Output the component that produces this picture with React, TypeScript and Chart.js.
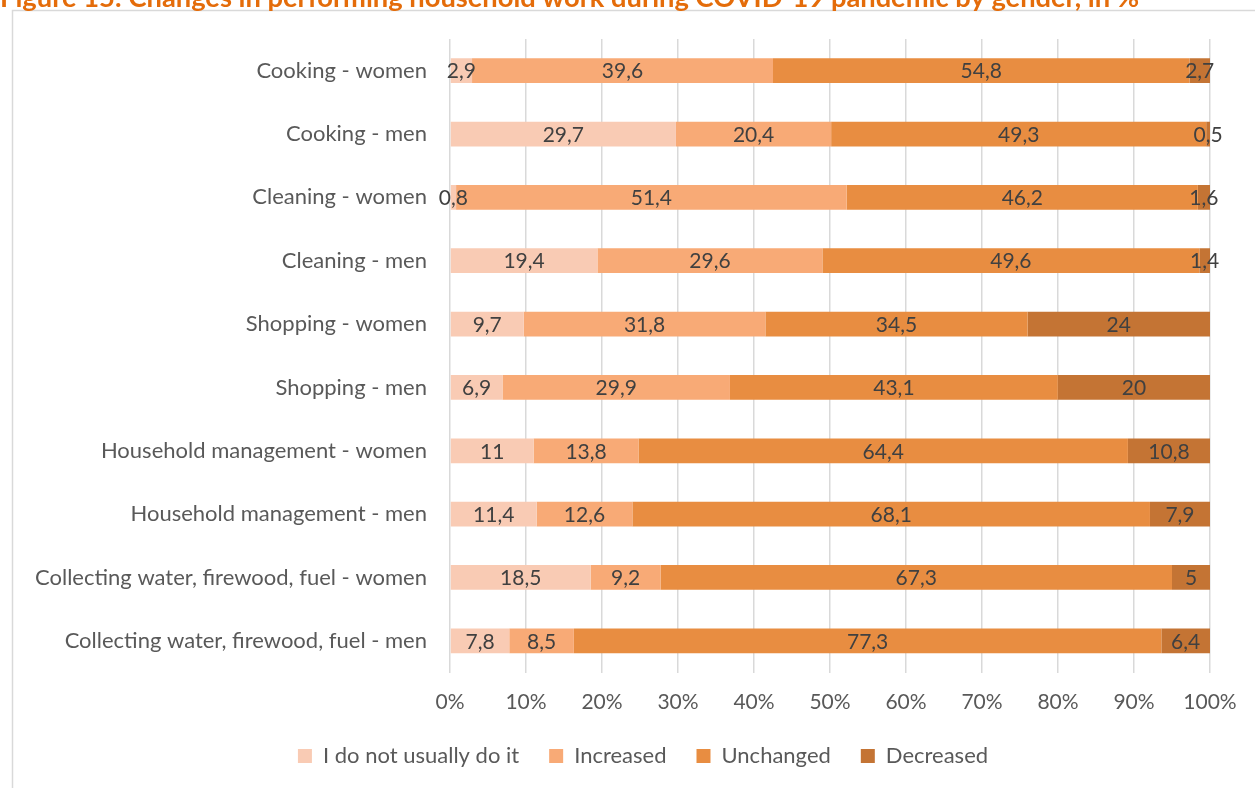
import { useEffect, useRef } from "react";
import { Chart, registerables } from "chart.js";

Chart.register(...registerables);

const FONT = "Lato, 'Open Sans', sans-serif";

const titleText =
  "Figure 15: Changes in performing household work during COVID-19 pandemic by gender, in %";

const categories = [
  "Cooking - women",
  "Cooking - men",
  "Cleaning - women",
  "Cleaning - men",
  "Shopping - women",
  "Shopping - men",
  "Household management - women",
  "Household management - men",
  "Collecting water, firewood, fuel - women",
  "Collecting water, firewood, fuel - men",
];

const seriesNames = ["I do not usually do it", "Increased", "Unchanged", "Decreased"];

const notUsually = [2.9, 29.7, 0.8, 19.4, 9.7, 6.9, 11, 11.4, 18.5, 7.8];
const increased = [39.6, 20.4, 51.4, 29.6, 31.8, 29.9, 13.8, 12.6, 9.2, 8.5];
const unchanged = [54.8, 49.3, 46.2, 49.6, 34.5, 43.1, 64.4, 68.1, 67.3, 77.3];
const decreased = [2.7, 0.5, 1.6, 1.4, 24, 20, 10.8, 7.9, 5, 6.4];

const seriesColors = ["#F9CBB4", "#F8AA76", "#E88D41", "#C47434"];

const xTicks = [0, 10, 20, 30, 40, 50, 60, 70, 80, 90, 100];

const framePlugin = {
  id: "frame",
  beforeDraw(chart: any) {
    const ctx = chart.ctx;
    ctx.save();
    ctx.fillStyle = "#ffffff";
    ctx.fillRect(0, 0, chart.width, chart.height);
    ctx.strokeStyle = "#d9d9d9";
    ctx.lineWidth = 1.5;
    ctx.strokeRect(12.5, 10.5, 1400, 1000);
    ctx.fillStyle = "#E46C0A";
    ctx.font = `bold 27.3px ${FONT}`;
    ctx.textBaseline = "alphabetic";
    ctx.textAlign = "left";
    ctx.fillText(titleText, 0, 7);
    ctx.restore();
  },
};

const legendShiftPlugin = {
  id: "legendShift",
  afterLayout(chart: any) {
    if (chart.legend) {
      chart.legend.left += 76;
    }
  },
};

const labelPlugin = {
  id: "segLabels",
  afterDatasetsDraw(chart: any) {
    const ctx = chart.ctx;
    ctx.save();
    ctx.font = `21px ${FONT}`;
    ctx.fillStyle = "#404040";
    ctx.textAlign = "center";
    ctx.textBaseline = "middle";
    chart.data.datasets.forEach((ds: any, di: number) => {
      const meta = chart.getDatasetMeta(di);
      meta.data.forEach((bar: any, i: number) => {
        const v = ds.rawValues[i];
        const cx = (bar.x + bar.base) / 2;
        ctx.fillText(String(v).replace(".", ","), cx, bar.y + 1);
      });
    });
    ctx.restore();
  },
};

export default function App() {
  const ref = useRef<HTMLCanvasElement>(null);

  useEffect(() => {
    const raw = [notUsually, increased, unchanged, decreased];
    const totals = categories.map((_, i) => raw.reduce((s, a) => s + a[i], 0));
    const chart = new Chart(ref.current as HTMLCanvasElement, {
      type: "bar",
      data: {
        labels: categories,
        datasets: raw.map((arr, k) => ({
          label: seriesNames[k],
          data: arr.map((v, i) => (v / totals[i]) * 100),
          rawValues: arr,
          backgroundColor: seriesColors[k],
          borderWidth: 0,
          categoryPercentage: 1,
          barPercentage: 0.39,
        })) as any,
      },
      options: {
        indexAxis: "y",
        responsive: false,
        animation: false,
        layout: { padding: { top: 39, right: 45, bottom: 23, left: 0 } },
        scales: {
          x: {
            stacked: true,
            min: 0,
            max: 100,
            afterBuildTicks: (s: any) => {
              s.ticks = xTicks.map((v) => ({ value: v }));
            },
            afterFit: (s: any) => {
              s.height = 42.5;
            },
            ticks: {
              callback: (v: any) => v + "%",
              color: "#595959",
              font: { family: FONT, size: 21 },
              padding: 17,
              maxRotation: 0,
            },
            grid: { color: "#d9d9d9", lineWidth: 1.5, drawTicks: false },
            border: { display: false },
          },
          y: {
            stacked: true,
            ticks: {
              color: "#595959",
              font: { family: FONT, size: 22 },
              padding: 23,
            },
            grid: { display: false, drawTicks: false },
            border: { display: false },
            afterFit: (s: any) => {
              s.width = 450;
            },
          },
        },
        plugins: {
          legend: {
            position: "bottom",
            labels: {
              boxWidth: 14,
              boxHeight: 14,
              padding: 30,
              color: "#595959",
              font: { family: FONT, size: 22 },
            },
          },
          tooltip: { enabled: false },
        },
      },
      plugins: [framePlugin, legendShiftPlugin, labelPlugin],
    });
    return () => chart.destroy();
  }, []);

  return (
    <div
      style={{
        position: "fixed",
        left: 0,
        top: 0,
        width: 1255,
        height: 788,
        overflow: "hidden",
        background: "#ffffff",
      }}
    >
      <canvas ref={ref} width={1255} height={800} style={{ display: "block" }} />
    </div>
  );
}
